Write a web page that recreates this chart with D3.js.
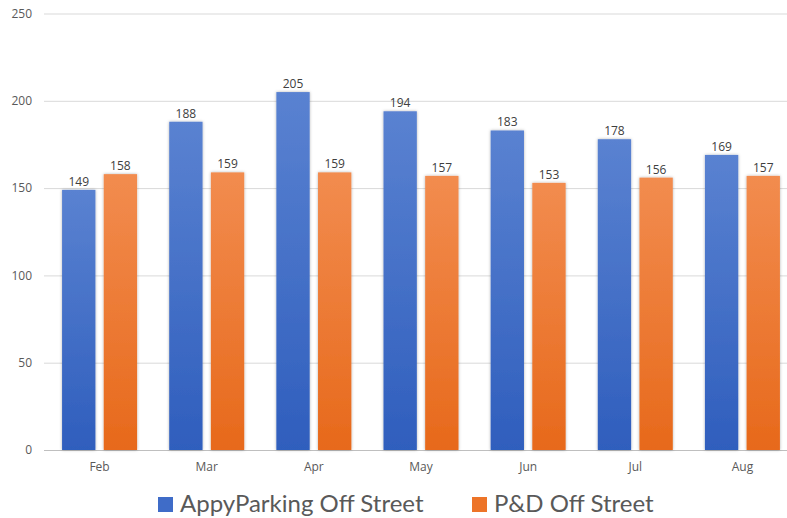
<!DOCTYPE html>
<html><head><meta charset="utf-8">
<script src="https://cdn.jsdelivr.net/npm/d3@7/dist/d3.min.js"></script>
<style>body{margin:0;background:#fff;overflow:hidden}svg{display:block}</style>
</head><body>
<script>
const categories = ["Feb","Mar","Apr","May","Jun","Jul","Aug"];
const seriesNames = ["AppyParking Off Street","P&D Off Street"];
const appyValues = [149,188,205,194,183,178,169];
const pdValues = [158,159,159,157,153,156,157];
const yTicks = [0,50,100,150,200,250];

const W = 787, H = 518;
const svg = d3.select("body").append("svg").attr("width", W).attr("height", H);
const defs = svg.append("defs");
const grads = [["gBlue","#5a82d1","#2f5ebd"],["gOrange","#f28c4f","#e7691b"]];
grads.forEach(([id,top,bot])=>{
  const g = defs.append("linearGradient").attr("id",id).attr("x1",0).attr("y1",0).attr("x2",0).attr("y2",1);
  g.append("stop").attr("offset","0%").attr("stop-color",top);
  g.append("stop").attr("offset","100%").attr("stop-color",bot);
});
const f = defs.append("filter").attr("id","sh").attr("x","-30%").attr("y","-10%").attr("width","160%").attr("height","120%");
f.append("feDropShadow").attr("dx",0).attr("dy",0).attr("stdDeviation",1.8).attr("flood-color","#000").attr("flood-opacity",0.3);

const y = d3.scaleLinear().domain([0,250]).range([450,13.5]);
const x = d3.scaleBand().domain(categories).range([46,796]).paddingInner(0.3).paddingOuter(0.15);
const xs = d3.scaleBand().domain([0,1]).range([0,x.bandwidth()]).paddingInner(0.2);

// grid
const yAxis = d3.axisLeft(y).tickValues(yTicks).tickSize(-(W-44)).tickPadding(12);
const ga = svg.append("g").attr("transform","translate(44,0)").call(yAxis);
ga.select(".domain").remove();
ga.selectAll(".tick line").attr("stroke", d=> d===0 ? "#bfbfbf" : "#d9d9d9").attr("stroke-width",1);
ga.selectAll(".tick text").attr("fill","#595959").style("font-family","Open Sans, sans-serif").style("font-size","12px");

const xAxis = d3.axisBottom(x).tickSize(0).tickPadding(12);
const gx = svg.append("g").attr("transform","translate(0,450)").call(xAxis);
gx.select(".domain").remove();
gx.selectAll(".tick text").attr("fill","#595959").style("font-family","Open Sans, sans-serif").style("font-size","12px");

const data = categories.map((c,i)=>({c, vals:[appyValues[i], pdValues[i]]}));
const fills = ["url(#gBlue)","url(#gOrange)"];
const groups = svg.append("g").selectAll("g").data(data).join("g").attr("transform",d=>`translate(${x(d.c)},0)`);
groups.selectAll("rect").data(d=>d.vals.map((v,k)=>({v,k}))).join("rect")
  .attr("x",d=>xs(d.k)).attr("width",xs.bandwidth())
  .attr("y",d=>y(d.v)).attr("height",d=>y(0)-y(d.v))
  .attr("fill",d=>fills[d.k]).attr("filter","url(#sh)");
groups.selectAll("text").data(d=>d.vals.map((v,k)=>({v,k}))).join("text")
  .attr("x",d=>xs(d.k)+xs.bandwidth()/2).attr("y",d=>y(d.v)-4)
  .attr("text-anchor","middle").attr("fill","#404040")
  .style("font-family","Open Sans, sans-serif").style("font-size","12px")
  .text(d=>d.v);

// legend
const legendColors = ["#3f6cc8","#ed7428"];
const legX = [158, 472];
const leg = svg.append("g");
seriesNames.forEach((n,i)=>{
  leg.append("rect").attr("x",legX[i]).attr("y",497).attr("width",15).attr("height",15).attr("fill",legendColors[i]);
  leg.append("text").attr("x",legX[i]+22).attr("y",512).attr("fill","#595959")
    .style("font-family","Lato, sans-serif").style("font-size","24px").text(n);
});
</script>
</body></html>
